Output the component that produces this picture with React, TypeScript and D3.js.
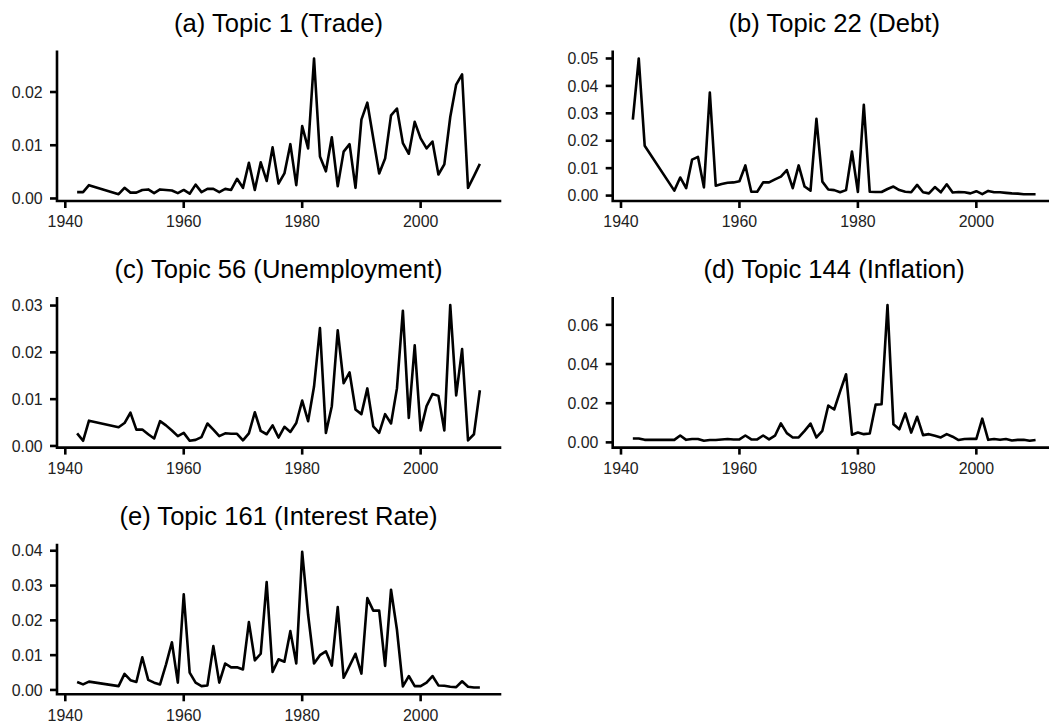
import React from "react";
import * as d3 from "d3";

// yearly topic shares, 1945-1948 missing in the source
const years = [
  1942, 1943, 1944, 1949, 1950, 1951, 1952, 1953, 1954, 1955, 1956, 1957, 1958,
  1959, 1960, 1961, 1962, 1963, 1964, 1965, 1966, 1967, 1968, 1969, 1970, 1971,
  1972, 1973, 1974, 1975, 1976, 1977, 1978, 1979, 1980, 1981, 1982, 1983, 1984,
  1985, 1986, 1987, 1988, 1989, 1990, 1991, 1992, 1993, 1994, 1995, 1996, 1997,
  1998, 1999, 2000, 2001, 2002, 2003, 2004, 2005, 2006, 2007, 2008, 2009, 2010,
];

const trade = [
  0.0012, 0.0012, 0.0025, 0.0008, 0.002, 0.0011, 0.0011, 0.0016, 0.0017, 0.001,
  0.0017, 0.0016, 0.0015, 0.001, 0.0016, 0.0009, 0.0026, 0.0012, 0.0018, 0.0018,
  0.0012, 0.0018, 0.0016, 0.0037, 0.002, 0.0067, 0.0016, 0.0068, 0.0033, 0.0096,
  0.0028, 0.0047, 0.0102, 0.0025, 0.0136, 0.0094, 0.0263, 0.0079, 0.0051, 0.0115,
  0.0023, 0.0088, 0.0102, 0.002, 0.0148, 0.018, 0.0113, 0.0047, 0.0075, 0.0156,
  0.0169, 0.0104, 0.0084, 0.0144, 0.0113, 0.0094, 0.0107, 0.0045, 0.0064, 0.0153,
  0.0214, 0.0233, 0.002, 0.0042, 0.0065,
];

const debt = [
  0.0277, 0.05, 0.0182, 0.0018, 0.0066, 0.0027, 0.0131, 0.0141, 0.003, 0.0376,
  0.0036, 0.0042, 0.0047, 0.0048, 0.0052, 0.011, 0.0014, 0.0014, 0.0048, 0.0048,
  0.0059, 0.0069, 0.0093, 0.0027, 0.011, 0.0033, 0.0018, 0.028, 0.0051, 0.0022,
  0.002, 0.0012, 0.002, 0.0161, 0.0013, 0.0331, 0.0014, 0.0013, 0.0013, 0.0024,
  0.0033, 0.002, 0.0014, 0.0012, 0.0039, 0.0012, 0.0008, 0.0031, 0.0012, 0.0041,
  0.0011, 0.0013, 0.0012, 0.0008, 0.0016, 0.0005, 0.0017, 0.0012, 0.0012, 0.001,
  0.0008, 0.0007, 0.0005, 0.0005, 0.0005,
];

const unemployment = [
  0.0027, 0.0011, 0.0054, 0.004, 0.0049, 0.0071, 0.0035, 0.0035, 0.0025, 0.0016,
  0.0053, 0.0044, 0.0033, 0.0021, 0.0028, 0.0011, 0.0013, 0.0019, 0.0048, 0.0035,
  0.0021, 0.0027, 0.0026, 0.0026, 0.0012, 0.0027, 0.0072, 0.0032, 0.0025, 0.0044,
  0.0018, 0.0041, 0.003, 0.0049, 0.0097, 0.0053, 0.0127, 0.0252, 0.0028, 0.0085,
  0.0247, 0.0134, 0.0157, 0.0078, 0.0068, 0.0123, 0.0042, 0.0028, 0.0068, 0.0048,
  0.0123, 0.0289, 0.006, 0.0215, 0.0033, 0.0085, 0.0111, 0.0107, 0.0033, 0.0301,
  0.0108, 0.0207, 0.0012, 0.0025, 0.0119,
];

const inflation = [
  0.002, 0.002, 0.0013, 0.0013, 0.0035, 0.0013, 0.0017, 0.0017, 0.0008, 0.0012,
  0.0012, 0.0015, 0.0017, 0.0015, 0.0015, 0.0035, 0.0015, 0.0015, 0.0035, 0.0015,
  0.0034, 0.0097, 0.0047, 0.0025, 0.0025, 0.0059, 0.0096, 0.0025, 0.0059, 0.0188,
  0.0168, 0.026, 0.0348, 0.0039, 0.005, 0.0042, 0.0045, 0.0193, 0.0195, 0.0701,
  0.0092, 0.0067, 0.0148, 0.005, 0.0131, 0.0037, 0.0042, 0.0034, 0.0025, 0.0042,
  0.0029, 0.0012, 0.0017, 0.0018, 0.0018, 0.0121, 0.0013, 0.0017, 0.0013, 0.0017,
  0.001, 0.0013, 0.0013, 0.0008, 0.0012,
];

const interestRate = [
  0.0023, 0.0016, 0.0024, 0.0011, 0.0046, 0.0028, 0.0023, 0.0094, 0.0029, 0.0021,
  0.0016, 0.0073, 0.0137, 0.0021, 0.0275, 0.005, 0.0021, 0.0011, 0.0013, 0.0126,
  0.0021, 0.0076, 0.0065, 0.0065, 0.0059, 0.0195, 0.0085, 0.0104, 0.031, 0.0052,
  0.0088, 0.0081, 0.0169, 0.0076, 0.0397, 0.0216, 0.0076, 0.01, 0.0111, 0.007,
  0.0238, 0.0035, 0.0069, 0.0104, 0.0047, 0.0264, 0.0228, 0.0228, 0.0069, 0.0288,
  0.0173, 0.001, 0.004, 0.0011, 0.0011, 0.0021, 0.004, 0.0013, 0.0012, 0.0009,
  0.0008, 0.0025, 0.0009, 0.0007, 0.0007,
];

const xTicks = [1940, 1960, 1980, 2000];
const ticksTrade = [0, 0.01, 0.02];
const ticksDebt = [0, 0.01, 0.02, 0.03, 0.04, 0.05];
const ticksUnemployment = [0, 0.01, 0.02, 0.03];
const ticksInflation = [0, 0.02, 0.04, 0.06];
const ticksInterest = [0, 0.01, 0.02, 0.03, 0.04];

const titles = [
  "(a) Topic 1 (Trade)",
  "(b) Topic 22 (Debt)",
  "(c) Topic 56 (Unemployment)",
  "(d) Topic 144 (Inflation)",
  "(e) Topic 161 (Interest Rate)",
];

const W = 1049;
const H = 725;
const PW = 443;
const PH = 149.3;
const FONT = "'Liberation Sans', Arial, Helvetica, sans-serif";
const STROKE = 2.6;

function expand(lo: number, hi: number): [number, number] {
  const pad = (hi - lo) * 0.05;
  return [lo - pad, hi + pad];
}

function Panel({ title, values, yTicks, left, top }: any) {
  const xExt = d3.extent(years) as [number, number];
  const yExt = d3.extent(values as number[]) as [number, number];
  const x = d3.scaleLinear().domain(expand(xExt[0], xExt[1])).range([left, left + PW]);
  const y = d3.scaleLinear().domain(expand(yExt[0], yExt[1])).range([top + PH, top]);
  const bottom = top + PH;
  const line = d3
    .line<number>()
    .x((_, i) => x(years[i]))
    .y((d) => y(d));
  const fmt = d3.format(".2f");

  return (
    <g>
      <text
        x={left + PW / 2}
        y={top - 20}
        textAnchor="middle"
        fontSize={25.6}
        fill="#000"
      >
        {title}
      </text>
      <path
        d={line(values) || ""}
        fill="none"
        stroke="#000"
        strokeWidth={STROKE}
        strokeLinejoin="round"
      />
      {/* axis lines */}
      <path
        d={`M${left},${top}V${bottom}H${left + PW}`}
        fill="none"
        stroke="#000"
        strokeWidth={STROKE}
        strokeLinecap="square"
      />
      {yTicks.map((t: number) => (
        <g key={"y" + t}>
          <line x1={left - 7} x2={left} y1={y(t)} y2={y(t)} stroke="#000" strokeWidth={STROKE} />
          <text
            x={left - 14.3}
            y={y(t)}
            dy="0.36em"
            textAnchor="end"
            fontSize={15.9}
            fill="#222"
          >
            {fmt(t)}
          </text>
        </g>
      ))}
      {xTicks.map((t) => (
        <g key={"x" + t}>
          <line x1={x(t)} x2={x(t)} y1={bottom} y2={bottom + 7} stroke="#000" strokeWidth={STROKE} />
          <text
            x={x(t)}
            y={bottom + 26.3}
            textAnchor="middle"
            fontSize={15.9}
            fill="#222"
          >
            {t}
          </text>
        </g>
      ))}
    </g>
  );
}

export default function App() {
  const colL = 57;
  const colR = 612.7;
  const rows = [51.7, 298.3, 545];
  const panels = [
    { title: titles[0], values: trade, yTicks: ticksTrade, left: colL, top: rows[0] },
    { title: titles[1], values: debt, yTicks: ticksDebt, left: colR, top: rows[0] },
    { title: titles[2], values: unemployment, yTicks: ticksUnemployment, left: colL, top: rows[1] },
    { title: titles[3], values: inflation, yTicks: ticksInflation, left: colR, top: rows[1] },
    { title: titles[4], values: interestRate, yTicks: ticksInterest, left: colL, top: rows[2] },
  ];

  return (
    <svg
      width={W}
      height={H}
      style={{ position: "absolute", left: 0, top: 0, background: "#fff" }}
      fontFamily={FONT}
    >
      <rect width={W} height={H} fill="#fff" />
      {panels.map((p) => (
        <Panel key={p.title} {...p} />
      ))}
    </svg>
  );
}
